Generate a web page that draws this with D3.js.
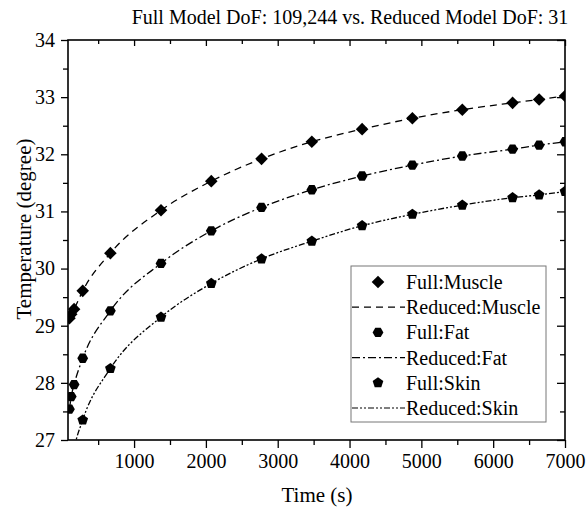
<!DOCTYPE html>
<html>
<head>
<meta charset="utf-8">
<script src="https://cdn.jsdelivr.net/npm/d3@7"></script>
<style>
  body { margin: 0; background: #fff; }
</style>
</head>
<body>
<script>
// time points (s)
const times = [100, 125, 165, 285, 670, 1375, 2075, 2775, 3475, 4175, 4875, 5570, 6270, 6640, 7000];
// temperatures
const muscle = [29.13, 29.2, 29.29, 29.61, 30.27, 31.02, 31.53, 31.92, 32.22, 32.44, 32.63, 32.78, 32.9, 32.96, 33.02];
const fat = [27.54, 27.76, 27.97, 28.43, 29.26, 30.09, 30.66, 31.07, 31.38, 31.62, 31.81, 31.97, 32.09, 32.16, 32.22];
const skin = [26.25, 26.55, 26.84, 27.35, 28.25, 29.15, 29.74, 30.17, 30.48, 30.75, 30.95, 31.11, 31.24, 31.29, 31.35];

const xTicks = [1000, 2000, 3000, 4000, 5000, 6000, 7000];
const yTicks = [27, 28, 29, 30, 31, 32, 33, 34];

const W = 588, H = 511;
const m = { top: 40, right: 23, bottom: 71, left: 68 };
const serif = "'Liberation Serif'";

const svg = d3.select("body").append("svg")
  .attr("width", W)
  .attr("height", H);

const x = d3.scaleLinear().domain([80, 7000]).range([m.left, W - m.right]);
const y = d3.scaleLinear().domain([27, 34]).range([H - m.bottom, m.top]);

svg.append("clipPath").attr("id", "clip")
  .append("rect")
  .attr("x", m.left).attr("y", m.top)
  .attr("width", W - m.left - m.right)
  .attr("height", H - m.top - m.bottom);

// series
const series = [
  { name: "Muscle", vals: muscle, dash: "7,5", shape: "diamond" },
  { name: "Fat", vals: fat, dash: "8,3,2,3", shape: "hexagon" },
  { name: "Skin", vals: skin, dash: "6,2,2,2,2,2", shape: "pentagon" }
];

function poly(n, r, rot) {
  const pts = d3.range(n).map(i => {
    const a = rot + i * 2 * Math.PI / n;
    return [r * Math.cos(a), r * Math.sin(a)];
  });
  return "M" + pts.map(p => p.join(",")).join("L") + "Z";
}
const shapes = {
  diamond: poly(4, 6.3, -Math.PI / 2),
  hexagon: poly(6, 5.4, 0),
  pentagon: poly(5, 5.6, -Math.PI / 2)
};

const line = d3.line()
  .x((d, i) => x(times[i]))
  .y(d => y(d))
  .curve(d3.curveMonotoneX);

const plot = svg.append("g").attr("clip-path", "url(#clip)");

series.forEach(s => {
  plot.append("path")
    .datum(s.vals)
    .attr("fill", "none")
    .attr("stroke", "#000")
    .attr("stroke-width", 1.3)
    .attr("stroke-dasharray", s.dash)
    .attr("d", line);

  plot.selectAll(null)
    .data(s.vals)
    .enter()
    .append("path")
    .attr("d", shapes[s.shape])
    .attr("transform", (d, i) => `translate(${x(times[i])},${y(d)})`)
    .attr("fill", "#000");
});

// axes
const xMinor = d3.range(500, 7000, 1000);
const yMinor = d3.range(27.5, 34, 1);
const fmt = d3.format("d");

svg.append("g").attr("transform", `translate(0,${H - m.bottom})`)
  .call(d3.axisBottom(x).tickValues(xTicks).tickSize(8).tickPadding(6).tickFormat(fmt));
svg.append("g").attr("transform", `translate(${m.left},0)`)
  .call(d3.axisLeft(y).tickValues(yTicks).tickSize(7).tickPadding(6).tickFormat(fmt));
svg.append("g").attr("transform", `translate(0,${m.top})`)
  .call(d3.axisBottom(x).tickValues(xTicks).tickSize(6).tickFormat(""));
svg.append("g").attr("transform", `translate(${W - m.right},0)`)
  .call(d3.axisLeft(y).tickValues(yTicks).tickSize(8).tickFormat(""));

svg.append("g").attr("transform", `translate(0,${H - m.bottom})`)
  .call(d3.axisBottom(x).tickValues(xMinor).tickSize(5).tickFormat(""));
svg.append("g").attr("transform", `translate(${m.left},0)`)
  .call(d3.axisLeft(y).tickValues(yMinor).tickSize(5).tickFormat(""));
svg.append("g").attr("transform", `translate(0,${m.top})`)
  .call(d3.axisBottom(x).tickValues(xMinor).tickSize(4).tickFormat(""));
svg.append("g").attr("transform", `translate(${W - m.right},0)`)
  .call(d3.axisLeft(y).tickValues(yMinor).tickSize(5).tickFormat(""));

svg.selectAll(".domain").remove();
svg.selectAll(".tick line").attr("stroke", "#000").attr("stroke-width", 1.3);
svg.selectAll(".tick text")
  .attr("fill", "#000")
  .style("font-family", serif)
  .style("font-size", "20px");

svg.append("rect")
  .attr("x", m.left).attr("y", m.top)
  .attr("width", W - m.left - m.right)
  .attr("height", H - m.top - m.bottom)
  .attr("fill", "none")
  .attr("stroke", "#000")
  .attr("stroke-width", 1.6);

// titles
svg.append("text")
  .attr("x", 350).attr("y", 24)
  .attr("text-anchor", "middle")
  .style("font-family", serif)
  .style("font-size", "20px")
  .text("Full Model DoF: 109,244 vs. Reduced Model DoF: 31");

svg.append("text")
  .attr("x", 317).attr("y", 502)
  .attr("text-anchor", "middle")
  .style("font-family", serif)
  .style("font-size", "21px")
  .text("Time (s)");

svg.append("text")
  .attr("transform", "translate(31,229) rotate(-90)")
  .attr("text-anchor", "middle")
  .style("font-family", serif)
  .style("font-size", "21px")
  .text("Temperature (degree)");

// legend
const lg = svg.append("g");
lg.append("rect")
  .attr("x", 351).attr("y", 266)
  .attr("width", 195).attr("height", 156)
  .attr("fill", "#fff")
  .attr("stroke", "#777")
  .attr("stroke-width", 1);

const rows = [];
series.forEach(s => {
  rows.push({ label: "Full:" + s.name, shape: s.shape });
  rows.push({ label: "Reduced:" + s.name, dash: s.dash });
});

rows.forEach((r, i) => {
  const cy = 282 + i * 25.2;
  if (r.shape) {
    lg.append("path")
      .attr("d", shapes[r.shape])
      .attr("transform", `translate(378,${cy})`)
      .attr("fill", "#000");
  } else {
    lg.append("line")
      .attr("x1", 352).attr("x2", 405)
      .attr("y1", cy).attr("y2", cy)
      .attr("stroke", "#000")
      .attr("stroke-width", 1.2)
      .attr("stroke-dasharray", r.dash);
  }
  lg.append("text")
    .attr("x", 406).attr("y", cy + 7)
    .style("font-family", serif)
    .style("font-size", "20px")
    .text(r.label);
});
</script>
</body>
</html>
